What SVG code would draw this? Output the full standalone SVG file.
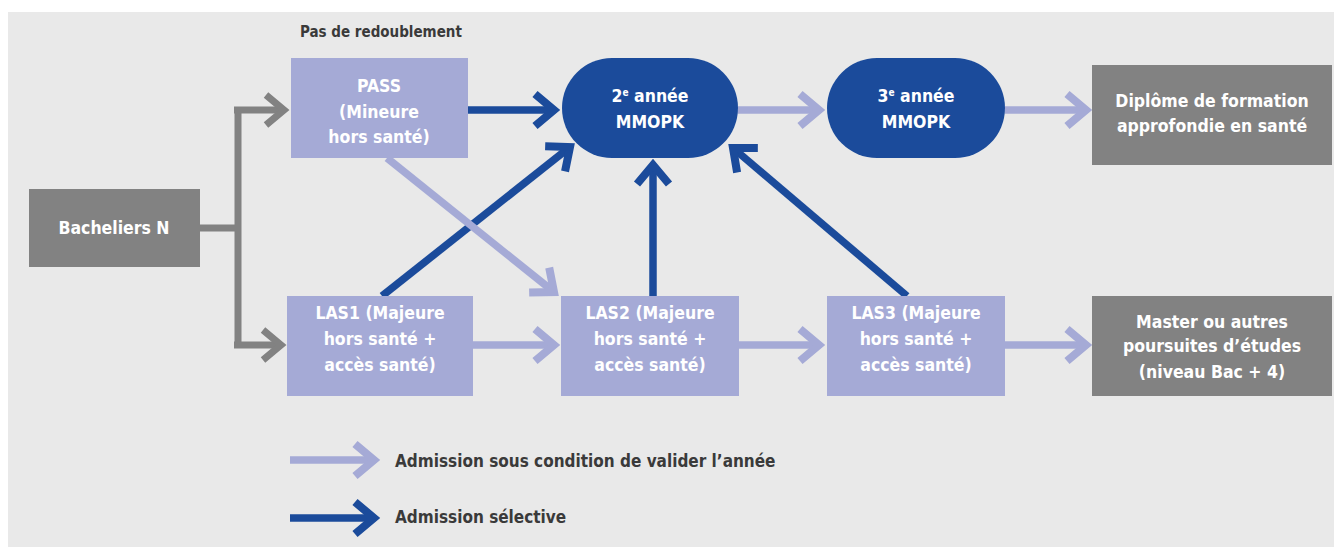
<svg xmlns="http://www.w3.org/2000/svg" width="1334" height="547" viewBox="0 0 1334 547">
<defs>
<style>
.bg{fill:#e9e9e9}
.box-l{fill:#a5aad6}
.box-g{fill:#828282}
.pill{fill:#1b4b9b}
.t{font-family:"Liberation Sans Narrow","DejaVu Sans Condensed","Liberation Sans",sans-serif;font-weight:bold;font-size:17.5px;fill:#ffffff;text-anchor:middle}
.lbl{font-family:"Liberation Sans Narrow","DejaVu Sans Condensed","Liberation Sans",sans-serif;font-weight:bold;fill:#3a3a3a}
.c-g{stroke:#828282;stroke-width:7;fill:none}
.c-l{stroke:#a5aad6;stroke-width:7.5;fill:none}
.c-d{stroke:#1b4b9b;stroke-width:7.5;fill:none}
</style>
<marker id="ag" markerUnits="userSpaceOnUse" viewBox="-30 -25 40 50" markerWidth="40" markerHeight="50" refX="0" refY="0" orient="auto"><path d="M-18,-15 L0,0 L-18,15" fill="none" stroke="#828282" stroke-width="7"/></marker>
<marker id="al" markerUnits="userSpaceOnUse" viewBox="-30 -25 40 50" markerWidth="40" markerHeight="50" refX="0" refY="0" orient="auto"><path d="M-19,-16 L0,0 L-19,16" fill="none" stroke="#a5aad6" stroke-width="8"/></marker>
<marker id="ad" markerUnits="userSpaceOnUse" viewBox="-30 -25 40 50" markerWidth="40" markerHeight="50" refX="0" refY="0" orient="auto"><path d="M-19,-16 L0,0 L-19,16" fill="none" stroke="#1b4b9b" stroke-width="8"/></marker>
</defs>
<rect x="0" y="0" width="1334" height="547" fill="#ffffff"/>
<rect class="bg" x="8" y="12" width="1326" height="535"/>

<text class="lbl" x="300" y="37" font-size="15">Pas de redoublement</text>

<g id="connectors">
<polyline class="c-g" points="200,228 238,228"/>
<polyline class="c-g" points="238,108 238,347"/>
<polyline class="c-g" points="234,110 284,110" marker-end="url(#ag)"/>
<polyline class="c-g" points="234,345 281,345" marker-end="url(#ag)"/>
<line class="c-d" x1="468" y1="110" x2="554" y2="110" marker-end="url(#ad)"/>
<line class="c-l" x1="738" y1="110" x2="819" y2="110" marker-end="url(#al)"/>
<line class="c-l" x1="1005" y1="110" x2="1086" y2="110" marker-end="url(#al)"/>
<line class="c-l" x1="473" y1="345" x2="554" y2="345" marker-end="url(#al)"/>
<line class="c-l" x1="739" y1="345" x2="819" y2="345" marker-end="url(#al)"/>
<line class="c-l" x1="1005" y1="345" x2="1086" y2="345" marker-end="url(#al)"/>
<line class="c-d" x1="382" y1="296" x2="570" y2="147" marker-end="url(#ad)"/>
<line class="c-d" x1="653" y1="296" x2="653" y2="165" marker-end="url(#ad)"/>
<line class="c-d" x1="907" y1="296" x2="733" y2="148" marker-end="url(#ad)"/>
<line class="c-l" x1="387" y1="158" x2="554" y2="292" marker-end="url(#al)"/>
<line class="c-l" x1="290" y1="460" x2="374" y2="460" marker-end="url(#al)"/>
<line class="c-d" x1="290" y1="518" x2="374" y2="518" marker-end="url(#ad)"/>
</g>

<g id="bacheliers">
<rect class="box-g" x="29" y="189" width="171" height="78"/>
<text class="t" x="114" y="234">Bacheliers N</text>
</g>

<g id="pass">
<rect class="box-l" x="291" y="58" width="177" height="100"/>
<text class="t" x="379" y="92">PASS</text>
<text class="t" x="379" y="118">(Mineure</text>
<text class="t" x="379" y="143">hors santé)</text>
</g>

<g id="annee2">
<rect class="pill" x="562" y="58" width="176" height="100" rx="50" ry="50"/>
<text class="t" x="650" y="102">2<tspan font-size="10" dy="-6">e</tspan><tspan dy="6"> année</tspan></text>
<text class="t" x="650" y="128">MMOPK</text>
</g>

<g id="annee3">
<rect class="pill" x="827" y="58" width="178" height="100" rx="50" ry="50"/>
<text class="t" x="916" y="102">3<tspan font-size="10" dy="-6">e</tspan><tspan dy="6"> année</tspan></text>
<text class="t" x="916" y="128">MMOPK</text>
</g>

<g id="diplome">
<rect class="box-g" x="1092" y="65" width="240" height="100"/>
<text class="t" x="1212" y="107">Diplôme de formation</text>
<text class="t" x="1212" y="132">approfondie en santé</text>
</g>

<g id="las1">
<rect class="box-l" x="287" y="296" width="186" height="100"/>
<text class="t" x="380" y="319">LAS1 (Majeure</text>
<text class="t" x="380" y="345">hors santé +</text>
<text class="t" x="380" y="371">accès santé)</text>
</g>

<g id="las2">
<rect class="box-l" x="561" y="296" width="178" height="100"/>
<text class="t" x="650" y="319">LAS2 (Majeure</text>
<text class="t" x="650" y="345">hors santé +</text>
<text class="t" x="650" y="371">accès santé)</text>
</g>

<g id="las3">
<rect class="box-l" x="827" y="296" width="178" height="100"/>
<text class="t" x="916" y="319">LAS3 (Majeure</text>
<text class="t" x="916" y="345">hors santé +</text>
<text class="t" x="916" y="371">accès santé)</text>
</g>

<g id="master">
<rect class="box-g" x="1092" y="296" width="240" height="100"/>
<text class="t" x="1212" y="328">Master ou autres</text>
<text class="t" x="1212" y="352">poursuites d’études</text>
<text class="t" x="1212" y="378">(niveau Bac + 4)</text>
</g>

<g id="legend">
<text class="lbl" x="395" y="467" font-size="17">Admission sous condition de valider l’année</text>
<text class="lbl" x="395" y="523" font-size="17">Admission sélective</text>
</g>
</svg>
